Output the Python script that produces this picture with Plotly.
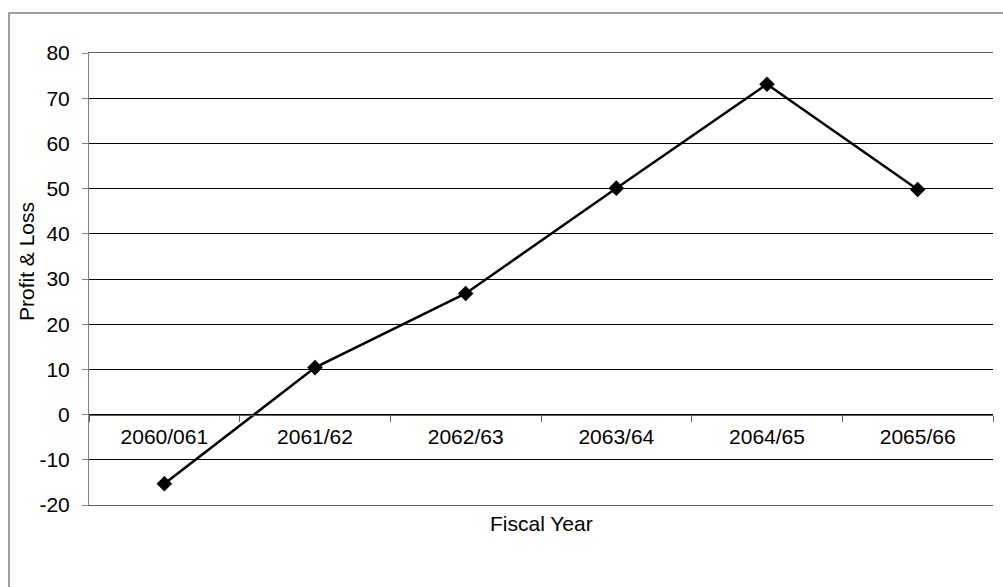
import plotly.graph_objects as go

categories = ["2060/061", "2061/62", "2062/63", "2063/64", "2064/65", "2065/66"]
profit_loss = [-15.3, 10.4, 26.8, 50.1, 73.1, 49.8]
y_ticks = [-20, -10, 0, 10, 20, 30, 40, 50, 60, 70, 80]
y_min, y_max = -20, 80
x_title = "Fiscal Year"
y_title = "Profit & Loss"

FONT = "Liberation Sans, Arial, sans-serif"
FS = 21

fig = go.Figure()
fig.add_trace(go.Scatter(
    x=categories, y=profit_loss, mode="lines+markers",
    line=dict(color="black", width=2.5),
    marker=dict(symbol="diamond", size=12, color="black"),
    showlegend=False, cliponaxis=False,
))
# invisible helper trace on overlay axis for top/bottom frame lines
fig.add_trace(go.Scatter(x=[0], y=[y_min], xaxis="x2", mode="markers",
                         marker=dict(opacity=0), showlegend=False, hoverinfo="skip"))

zero_pos = (0 - y_min) / (y_max - y_min)

fig.update_layout(
    width=1003, height=587,
    margin=dict(l=89, r=10, t=53, b=82),
    paper_bgcolor="white", plot_bgcolor="white",
    font=dict(family=FONT, size=FS, color="black"),
    xaxis=dict(
        type="category", categoryorder="array", categoryarray=categories,
        anchor="free", position=zero_pos,
        showline=True, linecolor="#606060", linewidth=1,
        ticks="outside", ticklen=6, tickcolor="#606060", tickson="boundaries",
        showgrid=False, zeroline=False,
        tickfont=dict(family=FONT, size=FS, color="black"),
        ticklabelstandoff=3,
        range=[-0.5, len(categories) - 0.5],
    ),
    xaxis2=dict(
        overlaying="x", anchor="y", side="bottom",
        showline=True, mirror=True, linecolor="#606060", linewidth=1,
        showticklabels=False, ticks="", showgrid=False, zeroline=False,
        range=[0, 1],
    ),
    yaxis=dict(
        range=[y_min, y_max], tickvals=y_ticks,
        ticktext=[str(v) for v in y_ticks],
        showline=True, linecolor="#808080", linewidth=1,
        ticks="outside", ticklen=6, tickcolor="#808080",
        showgrid=True, gridcolor="black", gridwidth=1,
        zeroline=False,
        tickfont=dict(family=FONT, size=FS, color="black"),
        ticklabelstandoff=8,
    ),
)

# outer chart frame (partially off-canvas, as in the reference)
fig.add_shape(type="rect", xref="paper", yref="paper",
              x0=(9 - 89) / 904, x1=1.2, y0=-0.3, y1=(505 - 13) / 452,
              line=dict(color="#808080", width=1.5), layer="below")

fig.add_annotation(text=x_title, xref="paper", yref="paper",
                   x=0.5, y=(505 - 523) / 452, showarrow=False,
                   xanchor="center", yanchor="middle",
                   font=dict(family=FONT, size=FS, color="black"))
fig.add_annotation(text=y_title, xref="paper", yref="paper",
                   x=(26 - 89) / 904, y=(505 - 262) / 452, showarrow=False,
                   textangle=-90, xanchor="center", yanchor="middle",
                   font=dict(family=FONT, size=FS, color="black"))

fig.write_html("out.html")
